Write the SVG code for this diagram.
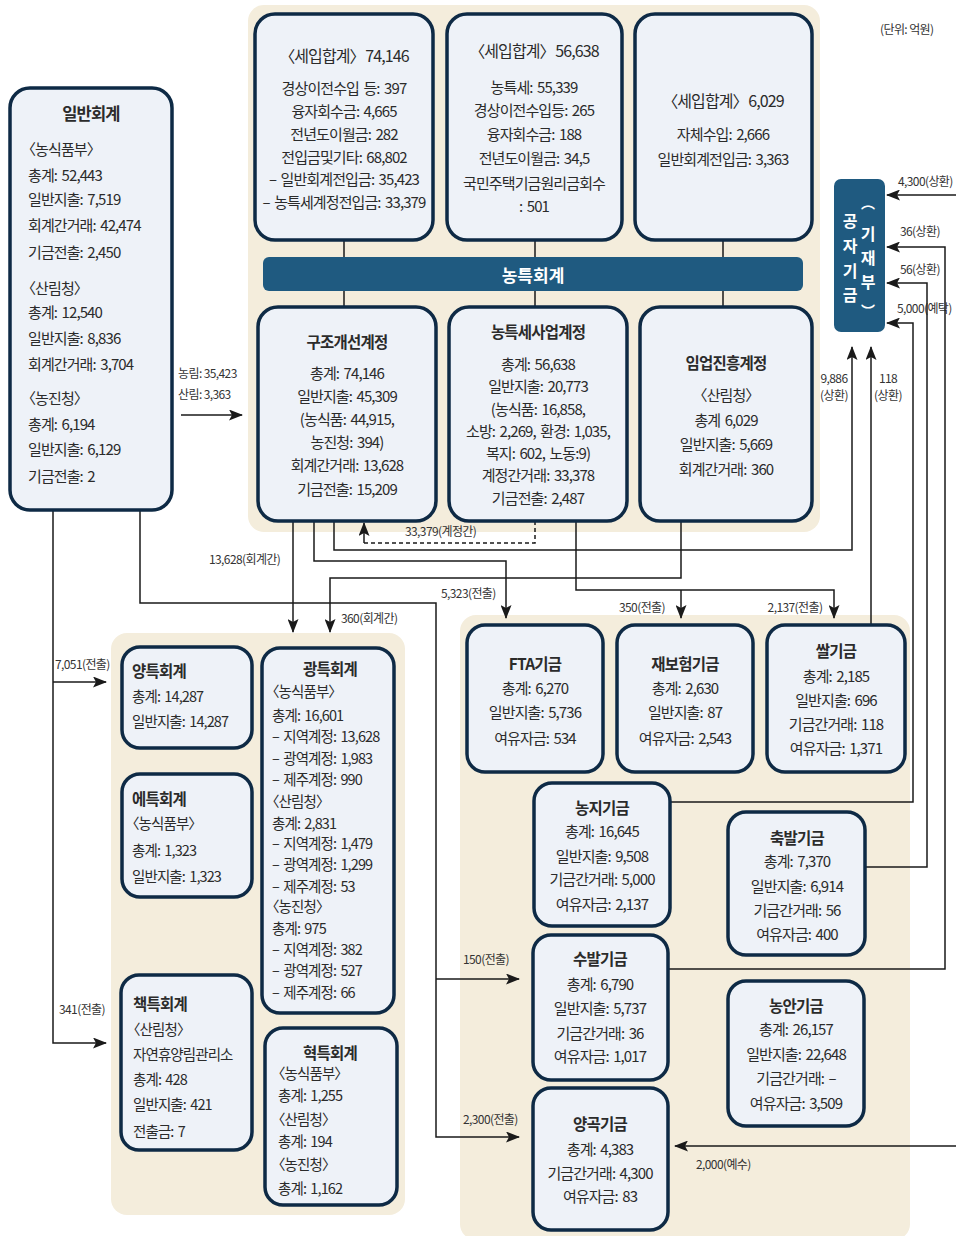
<svg xmlns="http://www.w3.org/2000/svg" width="956" height="1236" viewBox="0 0 956 1236">
<style>
  .panel { fill: #f4eddc; }
  .box { fill: #eef2f8; stroke: #0e2a45; stroke-width: 3.5; }
  .navy { fill: #1f5a80; }
  text { font-family: "Noto Sans CJK KR", "Noto Sans", sans-serif; fill: #2b2b2b; dominant-baseline: central; }
  .t { font-size: 15px; letter-spacing: -0.9px; word-spacing: 2px; }
  .s { font-size: 14.5px; letter-spacing: -0.9px; word-spacing: 2px; }
  .ti { font-size: 16px; letter-spacing: -0.9px; word-spacing: -2px; }
  .h { font-size: 16.5px; font-weight: bold; letter-spacing: -0.8px; }
  .c { text-anchor: middle; }
  .w { fill: #ffffff; font-size: 16px; font-weight: bold; }
  .lbl { font-size: 12px; letter-spacing: -0.6px; fill: #333333; }
  .ln { fill: none; stroke: #1a1a1a; stroke-width: 1.5; }
  .dash { stroke-dasharray: 4 3; }
</style>
<defs>
  <marker id="ah" viewBox="0 0 14 11" refX="13" refY="5.5" markerWidth="14" markerHeight="11" markerUnits="userSpaceOnUse" orient="auto">
    <path d="M0,0 L14,5.5 L0,11 L3,5.5 z" fill="#1a1a1a"/>
  </marker>
</defs>

<!-- background panels -->
<rect class="panel" x="248" y="5" width="572" height="527" rx="16"/>
<rect class="panel" x="111" y="633" width="294" height="582" rx="16"/>
<rect class="panel" x="460" y="615" width="450" height="625" rx="16"/>

<!-- unit note -->
<text class="lbl" x="880" y="28">(단위: 억원)</text>

<!-- connectors -->
<g id="connectors">
  <!-- 농특회계 bar links -->
  <path class="ln" d="M344,240 V257 M535,240 V257 M723,240 V257 M344,291 V307 M535,291 V307 M723,291 V307"/>
  <!-- 일반회계 -> 농특회계 -->
  <path class="ln" d="M181,415 H242" marker-end="url(#ah)"/>
  <text class="lbl" x="178" y="372">농림: 35,423</text>
  <text class="lbl" x="178" y="393">산림: 3,363</text>
  <!-- 일반회계 -> 양특 / 책특 -->
  <path class="ln" d="M53,510 V1043 H106" marker-end="url(#ah)"/>
  <path class="ln" d="M53,682 H106" marker-end="url(#ah)"/>
  <text class="lbl" x="55" y="663">7,051(전출)</text>
  <text class="lbl" x="59" y="1008">341(전출)</text>
  <!-- 일반회계 -> 수발 / 양곡 -->
  <path class="ln" d="M140,510 V603 H436 V1137 H519" marker-end="url(#ah)"/>
  <path class="ln" d="M436,979 H519" marker-end="url(#ah)"/>
  <text class="lbl" x="463" y="958">150(전출)</text>
  <text class="lbl" x="463" y="1118">2,300(전출)</text>
  <!-- 구조개선계정 outflows -->
  <path class="ln" d="M293,521 V632" marker-end="url(#ah)"/>
  <text class="lbl" x="209" y="558">13,628(회계간)</text>
  <path class="ln" d="M314,521 V561 H506 V618" marker-end="url(#ah)"/>
  <text class="lbl" x="441" y="592">5,323(전출)</text>
  <path class="ln" d="M334,521 V550 H852 V347" marker-end="url(#ah)"/>
  <text class="lbl c" x="834" y="377">9,886</text>
  <text class="lbl c" x="834" y="394">(상환)</text>
  <!-- 계정간 transfer (dashed) -->
  <path class="ln dash" d="M535,521 V543 H364"/>
  <path class="ln" d="M364,543 V523" marker-end="url(#ah)"/>
  <text class="lbl" x="405" y="530">33,379(계정간)</text>
  <!-- 임업진흥계정 -> 광특 -->
  <path class="ln" d="M681,521 V578 H330 V632" marker-end="url(#ah)"/>
  <text class="lbl" x="341" y="617">360(회계간)</text>
  <!-- 농특세사업계정 -> 재보험 / 쌀 -->
  <path class="ln" d="M576,521 V590 H834 V618" marker-end="url(#ah)"/>
  <path class="ln" d="M681,590 V618" marker-end="url(#ah)"/>
  <text class="lbl c" x="642" y="606">350(전출)</text>
  <text class="lbl c" x="795" y="606">2,137(전출)</text>
  <!-- funds -> 공자기금 -->
  <path class="ln" d="M871,625 V347" marker-end="url(#ah)"/>
  <text class="lbl c" x="888" y="377">118</text>
  <text class="lbl c" x="888" y="394">(상환)</text>
  <path class="ln" d="M670,802 H913 V323 H887" marker-end="url(#ah)"/>
  <text class="lbl" x="897" y="307">5,000(예탁)</text>
  <path class="ln" d="M865,867 H927 V283 H887" marker-end="url(#ah)"/>
  <text class="lbl" x="900" y="268">56(상환)</text>
  <path class="ln" d="M668,969 H945 V247 H887" marker-end="url(#ah)"/>
  <text class="lbl" x="900" y="230">36(상환)</text>
  <path class="ln" d="M956,195 H887" marker-end="url(#ah)"/>
  <text class="lbl" x="898" y="180">4,300(상환)</text>
  <path class="ln" d="M956,1146 H675" marker-end="url(#ah)"/>
  <text class="lbl" x="696" y="1163">2,000(예수)</text>
</g>

<!-- 일반회계 -->
<g id="general-account">
  <rect class="box" x="10" y="88" width="162" height="422" rx="20"/>
  <text class="h c" x="91" y="113">일반회계</text>
  <text class="t" x="21" y="148">〈농식품부〉</text>
  <text class="t" x="28" y="174">총계: 52,443</text>
  <text class="t" x="28" y="198">일반지출: 7,519</text>
  <text class="t" x="28" y="224">회계간거래: 42,474</text>
  <text class="t" x="28" y="251">기금전출: 2,450</text>
  <text class="t" x="21" y="287">〈산림청〉</text>
  <text class="t" x="28" y="311">총계: 12,540</text>
  <text class="t" x="28" y="337">일반지출: 8,836</text>
  <text class="t" x="28" y="363">회계간거래: 3,704</text>
  <text class="t" x="21" y="397">〈농진청〉</text>
  <text class="t" x="28" y="423">총계: 6,194</text>
  <text class="t" x="28" y="448">일반지출: 6,129</text>
  <text class="t" x="28" y="475">기금전출: 2</text>
</g>

<!-- 농특회계 revenue boxes -->
<g id="revenue-structure">
  <rect class="box" x="255" y="14" width="178" height="226" rx="20"/>
  <text class="ti c" x="344" y="55">〈세입합계〉 74,146</text>
  <text class="t c" x="344" y="87">경상이전수입 등: 397</text>
  <text class="t c" x="344" y="110">융자회수금: 4,665</text>
  <text class="t c" x="344" y="133">전년도이월금: 282</text>
  <text class="t c" x="344" y="156">전입금및기타: 68,802</text>
  <text class="t c" x="344" y="178">– 일반회계전입금: 35,423</text>
  <text class="t c" x="344" y="201">– 농특세계정전입금: 33,379</text>
</g>
<g id="revenue-tax">
  <rect class="box" x="447" y="14" width="175" height="226" rx="20"/>
  <text class="ti c" x="534" y="50">〈세입합계〉 56,638</text>
  <text class="t c" x="534" y="86">농특세: 55,339</text>
  <text class="t c" x="534" y="109">경상이전수입등: 265</text>
  <text class="t c" x="534" y="133">융자회수금: 188</text>
  <text class="t c" x="534" y="157">전년도이월금: 34,5</text>
  <text class="t c" x="534" y="182">국민주택기금원리금회수</text>
  <text class="t c" x="534" y="205">: 501</text>
</g>
<g id="revenue-forestry">
  <rect class="box" x="635" y="14" width="177" height="226" rx="20"/>
  <text class="ti c" x="723" y="100">〈세입합계〉 6,029</text>
  <text class="t c" x="723" y="133">자체수입: 2,666</text>
  <text class="t c" x="723" y="158">일반회계전입금: 3,363</text>
</g>

<!-- 농특회계 bar -->
<g id="special-account">
  <rect class="navy" x="263" y="257" width="540" height="34" rx="6"/>
  <text class="w c" x="533" y="274" style="font-size:17px">농특회계</text>
</g>

<!-- 농특회계 sub-accounts -->
<g id="structure-account">
  <rect class="box" x="258" y="307" width="178" height="214" rx="20"/>
  <text class="h c" x="347" y="341" style="font-size:15.5px">구조개선계정</text>
  <text class="t c" x="347" y="372">총계: 74,146</text>
  <text class="t c" x="347" y="395">일반지출: 45,309</text>
  <text class="t c" x="347" y="418">(농식품: 44,915,</text>
  <text class="t c" x="347" y="441">농진청: 394)</text>
  <text class="t c" x="347" y="464">회계간거래: 13,628</text>
  <text class="t c" x="347" y="488">기금전출: 15,209</text>
</g>
<g id="tax-project-account">
  <rect class="box" x="449" y="307" width="178" height="214" rx="20"/>
  <text class="h c" x="538" y="331" style="font-size:15.5px">농특세사업계정</text>
  <text class="t c" x="538" y="363">총계: 56,638</text>
  <text class="t c" x="538" y="385">일반지출: 20,773</text>
  <text class="t c" x="538" y="408">(농식품: 16,858,</text>
  <text class="t c" x="538" y="430">소방: 2,269, 환경: 1,035,</text>
  <text class="t c" x="538" y="452">복지: 602, 노동:9)</text>
  <text class="t c" x="538" y="474">계정간거래: 33,378</text>
  <text class="t c" x="538" y="497">기금전출: 2,487</text>
</g>
<g id="forestry-account">
  <rect class="box" x="640" y="307" width="172" height="214" rx="20"/>
  <text class="h c" x="726" y="362" style="font-size:15.5px">임업진흥계정</text>
  <text class="t c" x="726" y="394">〈산림청〉</text>
  <text class="t c" x="726" y="419">총계 6,029</text>
  <text class="t c" x="726" y="443">일반지출: 5,669</text>
  <text class="t c" x="726" y="468">회계간거래: 360</text>
</g>

<!-- 공자기금 -->
<g id="public-fund">
  <rect class="navy" x="834" y="179" width="51" height="153" rx="7"/>
  <text class="w c" x="850" y="220">공</text>
  <text class="w c" x="850" y="245">자</text>
  <text class="w c" x="850" y="270">기</text>
  <text class="w c" x="850" y="294">금</text>
  <text class="w c" x="868" y="202" style="font-size:14px">︵</text>
  <text class="w c" x="868" y="233">기</text>
  <text class="w c" x="868" y="257">재</text>
  <text class="w c" x="868" y="281">부</text>
  <text class="w c" x="868" y="310" style="font-size:14px">︶</text>
</g>

<!-- other special accounts -->
<g id="grain-account">
  <rect class="box" x="122" y="647" width="130" height="101" rx="18"/>
  <text class="h" x="132" y="670" style="font-size:15.5px">양특회계</text>
  <text class="s" x="132" y="695">총계: 14,287</text>
  <text class="s" x="132" y="720">일반지출: 14,287</text>
</g>
<g id="energy-account">
  <rect class="box" x="122" y="774" width="130" height="123" rx="18"/>
  <text class="h" x="132" y="798" style="font-size:15.5px">에특회계</text>
  <text class="s" x="125" y="822">〈농식품부〉</text>
  <text class="s" x="132" y="849">총계: 1,323</text>
  <text class="s" x="132" y="875">일반지출: 1,323</text>
</g>
<g id="regional-account">
  <rect class="box" x="262" y="648" width="132" height="365" rx="18"/>
  <text class="h c" x="330" y="668" style="font-size:15.5px">광특회계</text>
  <text class="s" x="265" y="690">〈농식품부〉</text>
  <text class="s" x="272" y="714">총계: 16,601</text>
  <text class="s" x="272" y="735">– 지역계정: 13,628</text>
  <text class="s" x="272" y="757">– 광역계정: 1,983</text>
  <text class="s" x="272" y="778">– 제주계정: 990</text>
  <text class="s" x="265" y="800">〈산림청〉</text>
  <text class="s" x="272" y="822">총계: 2,831</text>
  <text class="s" x="272" y="842">– 지역계정: 1,479</text>
  <text class="s" x="272" y="863">– 광역계정: 1,299</text>
  <text class="s" x="272" y="885">– 제주계정: 53</text>
  <text class="s" x="265" y="905">〈농진청〉</text>
  <text class="s" x="272" y="927">총계: 975</text>
  <text class="s" x="272" y="948">– 지역계정: 382</text>
  <text class="s" x="272" y="969">– 광역계정: 527</text>
  <text class="s" x="272" y="991">– 제주계정: 66</text>
</g>
<g id="forest-account">
  <rect class="box" x="121" y="975" width="131" height="175" rx="18"/>
  <text class="h" x="133" y="1003" style="font-size:15.5px">책특회계</text>
  <text class="s" x="126" y="1028">〈산림청〉</text>
  <text class="s" x="133" y="1053">자연휴양림관리소</text>
  <text class="s" x="133" y="1078">총계: 428</text>
  <text class="s" x="133" y="1103">일반지출: 421</text>
  <text class="s" x="133" y="1130">전출금: 7</text>
</g>
<g id="innovation-account">
  <rect class="box" x="265" y="1028" width="132" height="177" rx="18"/>
  <text class="h c" x="330" y="1052" style="font-size:15.5px">혁특회계</text>
  <text class="s" x="271" y="1072">〈농식품부〉</text>
  <text class="s" x="278" y="1094">총계: 1,255</text>
  <text class="s" x="271" y="1118">〈산림청〉</text>
  <text class="s" x="278" y="1140">총계: 194</text>
  <text class="s" x="271" y="1163">〈농진청〉</text>
  <text class="s" x="278" y="1187">총계: 1,162</text>
</g>

<!-- funds -->
<g id="fta-fund">
  <rect class="box" x="467" y="625" width="136" height="147" rx="18"/>
  <text class="h c" x="535" y="663" style="font-size:15.5px">FTA기금</text>
  <text class="t c" x="535" y="687">총계: 6,270</text>
  <text class="t c" x="535" y="711">일반지출: 5,736</text>
  <text class="t c" x="535" y="737">여유자금: 534</text>
</g>
<g id="reinsurance-fund">
  <rect class="box" x="617" y="625" width="136" height="147" rx="18"/>
  <text class="h c" x="685" y="663" style="font-size:15.5px">재보험기금</text>
  <text class="t c" x="685" y="687">총계: 2,630</text>
  <text class="t c" x="685" y="711">일반지출: 87</text>
  <text class="t c" x="685" y="737">여유자금: 2,543</text>
</g>
<g id="rice-fund">
  <rect class="box" x="767" y="625" width="138" height="147" rx="18"/>
  <text class="h c" x="836" y="650" style="font-size:15.5px">쌀기금</text>
  <text class="t c" x="836" y="675">총계: 2,185</text>
  <text class="t c" x="836" y="699">일반지출: 696</text>
  <text class="t c" x="836" y="723">기금간거래: 118</text>
  <text class="t c" x="836" y="747">여유자금: 1,371</text>
</g>
<g id="farmland-fund">
  <rect class="box" x="534" y="783" width="136" height="143" rx="18"/>
  <text class="h c" x="602" y="807" style="font-size:15.5px">농지기금</text>
  <text class="t c" x="602" y="830">총계: 16,645</text>
  <text class="t c" x="602" y="855">일반지출: 9,508</text>
  <text class="t c" x="602" y="878">기금간거래: 5,000</text>
  <text class="t c" x="602" y="903">여유자금: 2,137</text>
</g>
<g id="livestock-fund">
  <rect class="box" x="728" y="812" width="137" height="143" rx="18"/>
  <text class="h c" x="797" y="837" style="font-size:15.5px">축발기금</text>
  <text class="t c" x="797" y="860">총계: 7,370</text>
  <text class="t c" x="797" y="885">일반지출: 6,914</text>
  <text class="t c" x="797" y="909">기금간거래: 56</text>
  <text class="t c" x="797" y="933">여유자금: 400</text>
</g>
<g id="fishery-fund">
  <rect class="box" x="533" y="935" width="135" height="145" rx="18"/>
  <text class="h c" x="600" y="958" style="font-size:15.5px">수발기금</text>
  <text class="t c" x="600" y="983">총계: 6,790</text>
  <text class="t c" x="600" y="1007">일반지출: 5,737</text>
  <text class="t c" x="600" y="1032">기금간거래: 36</text>
  <text class="t c" x="600" y="1055">여유자금: 1,017</text>
</g>
<g id="price-stabilization-fund">
  <rect class="box" x="728" y="981" width="136" height="145" rx="18"/>
  <text class="h c" x="796" y="1005" style="font-size:15.5px">농안기금</text>
  <text class="t c" x="796" y="1028">총계: 26,157</text>
  <text class="t c" x="796" y="1053">일반지출: 22,648</text>
  <text class="t c" x="796" y="1077">기금간거래: –</text>
  <text class="t c" x="796" y="1102">여유자금: 3,509</text>
</g>
<g id="grain-fund">
  <rect class="box" x="533" y="1088" width="135" height="142" rx="18"/>
  <text class="h c" x="600" y="1123" style="font-size:15.5px">양곡기금</text>
  <text class="t c" x="600" y="1148">총계: 4,383</text>
  <text class="t c" x="600" y="1172">기금간거래: 4,300</text>
  <text class="t c" x="600" y="1195">여유자금: 83</text>
</g>
</svg>
